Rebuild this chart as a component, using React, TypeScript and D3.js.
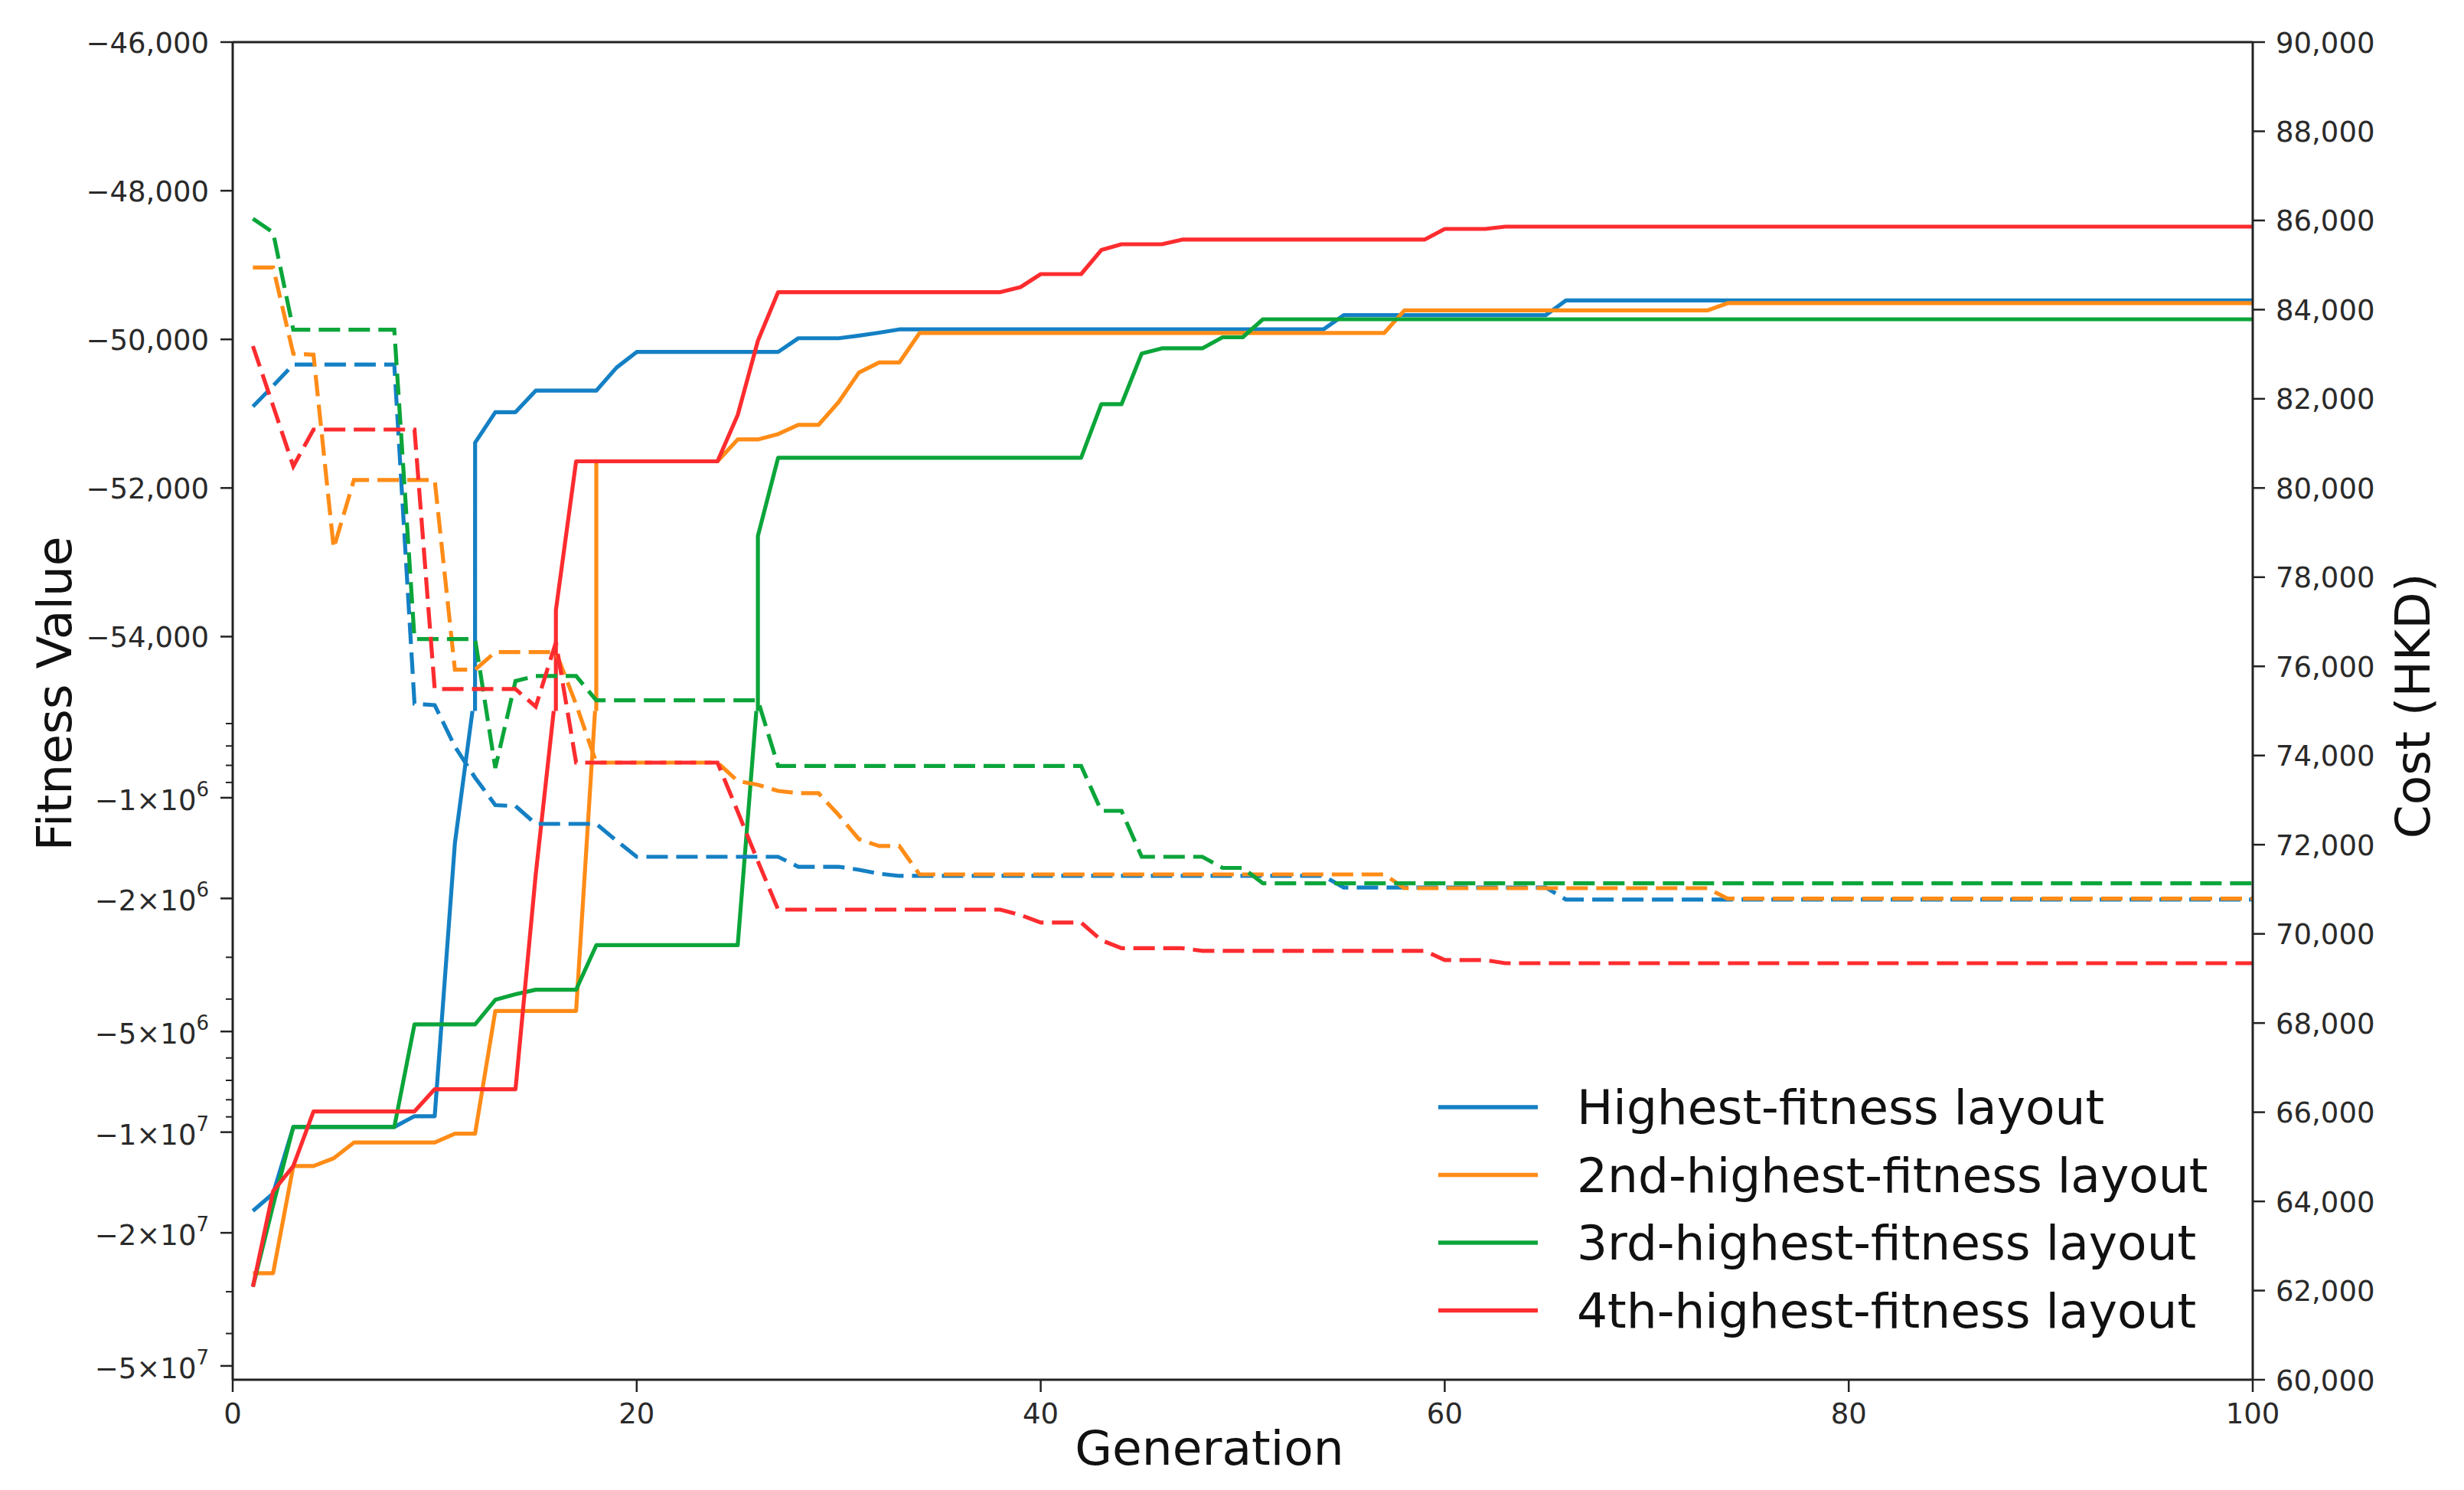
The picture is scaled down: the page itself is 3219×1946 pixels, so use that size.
import * as d3 from "d3";

type Pt = [number, number];

// canvas + plot frame (pixels)
const W = 3219;
const H = 1946;
const PLOT = { left: 304, right: 2943, top: 55, bottom: 1802 };
const MID = (PLOT.top + PLOT.bottom) / 2; // linear part above, log part below

const GENERATION_TICKS = [0, 20, 40, 60, 80, 100];
const FITNESS_LINEAR_TICKS = [-46000, -48000, -50000, -52000, -54000];
const COST_TICKS = [
  60000, 62000, 64000, 66000, 68000, 70000, 72000, 74000,
  76000, 78000, 80000, 82000, 84000, 86000, 88000, 90000,
];

const SERIES_NAMES = [
  "Highest-fitness layout",
  "2nd-highest-fitness layout",
  "3rd-highest-fitness layout",
  "4th-highest-fitness layout",
];
const SERIES_COLORS = ["#1480c4", "#ff8c17", "#0ba53a", "#fd2c2f"];

// [generation, fitness value] — vertices of each curve
const BLUE_FITNESS: Pt[] = [
  [1, -1.72e7], [2, -1.525e7], [3, -9.65e6], [8, -9.65e6], [9, -8.96e6], [10, -8.96e6],
  [11, -1.366e6], [12, -51390], [13, -50980], [14, -50980], [15, -50690], [18, -50690],
  [19, -50380], [20, -50170], [27, -50170], [28, -49985], [30, -49985], [31, -49950],
  [32, -49910], [33, -49866], [54, -49866], [55, -49674], [65, -49674], [66, -49477],
  [100, -49477],
];
const ORANGE_FITNESS: Pt[] = [
  [1, -2.64e7], [2, -2.64e7], [3, -1.263e7], [4, -1.263e7], [5, -1.197e7], [6, -1.074e7],
  [10, -1.074e7], [11, -1.01e7], [12, -1.01e7], [13, -4.34e6], [17, -4.34e6], [18, -51641],
  [24, -51641], [25, -51347], [26, -51347], [27, -51275], [28, -51151], [29, -51151],
  [30, -50842], [31, -50447], [32, -50311], [33, -50311], [34, -49915], [57, -49915],
  [58, -49611], [73, -49611], [74, -49513], [100, -49513],
];
const GREEN_FITNESS: Pt[] = [
  [1, -2.9e7], [2, -1.654e7], [3, -9.65e6], [8, -9.65e6], [9, -4.76e6], [12, -4.76e6],
  [13, -4.02e6], [14, -3.87e6], [15, -3.75e6], [17, -3.75e6], [18, -2.76e6], [25, -2.76e6],
  [26, -52645], [27, -51594], [42, -51594], [43, -50873], [44, -50873], [45, -50190],
  [46, -50121], [48, -50121], [49, -49972], [50, -49972], [51, -49730], [100, -49730],
];
const RED_FITNESS: Pt[] = [
  [1, -2.9e7], [2, -1.503e7], [3, -1.263e7], [4, -8.67e6], [9, -8.67e6], [10, -7.44e6],
  [14, -7.44e6], [15, -1.7e6], [16, -53643], [17, -51641], [24, -51641], [25, -51018],
  [26, -50018], [27, -49365], [38, -49365], [39, -49297], [40, -49122], [42, -49122],
  [43, -48798], [44, -48720], [46, -48720], [47, -48658], [59, -48658], [60, -48514],
  [62, -48514], [63, -48483], [100, -48483],
];

// [generation, cost HKD]
const BLUE_COST: Pt[] = [
  [1, 81826], [2, 82290], [3, 82770], [8, 82770], [9, 75163], [10, 75130], [11, 74202],
  [12, 73503], [13, 72888], [14, 72866], [15, 72467], [18, 72467], [19, 72090], [20, 71729],
  [27, 71729], [28, 71505], [30, 71505], [31, 71437], [32, 71350], [33, 71300], [54, 71300],
  [55, 71040], [65, 71040], [66, 70770], [100, 70770],
];
const ORANGE_COST: Pt[] = [
  [1, 84945], [2, 84945], [3, 83011], [4, 82988], [5, 78650], [6, 80178], [10, 80178],
  [11, 75924], [12, 75924], [13, 76320], [16, 76320], [17, 75146], [18, 73841], [24, 73841],
  [25, 73429], [26, 73343], [27, 73206], [28, 73155], [29, 73155], [30, 72663], [31, 72124],
  [32, 71970], [33, 71970], [34, 71334], [57, 71334], [58, 71025], [73, 71025], [74, 70790],
  [100, 70790],
];
const GREEN_COST: Pt[] = [
  [1, 86040], [2, 85733], [3, 83548], [8, 83548], [9, 76611], [12, 76611], [13, 73721],
  [14, 75670], [15, 75782], [17, 75782], [18, 75237], [26, 75237], [27, 73767], [42, 73767],
  [43, 72759], [44, 72759], [45, 71729], [48, 71729], [49, 71480], [50, 71480], [51, 71135],
  [100, 71135],
];
const RED_COST: Pt[] = [
  [1, 83183], [2, 81843], [3, 80487], [4, 81311], [9, 81311], [10, 75490], [14, 75490],
  [15, 75095], [16, 76537], [17, 73841], [24, 73841], [25, 72742], [26, 71626], [27, 70544],
  [38, 70544], [39, 70424], [40, 70253], [42, 70253], [43, 69858], [44, 69678], [47, 69678],
  [48, 69620], [59, 69620], [60, 69411], [62, 69411], [63, 69342], [100, 69342],
];

const FITNESS = [BLUE_FITNESS, ORANGE_FITNESS, GREEN_FITNESS, RED_FITNESS];
const COSTS = [BLUE_COST, ORANGE_COST, GREEN_COST, RED_COST];

const FONT = "DejaVu Sans";
const TICK_COLOR = "#2a2a2a";
const AXIS_COLOR = "#222";
const LINE_W = 5.2;

export default function App() {
  const x = d3.scaleLinear().domain([0, 100]).range([PLOT.left, PLOT.right]);
  // upper half: linear fitness scale
  const yTop = d3.scaleLinear().domain([-46000, -55000]).range([PLOT.top, MID]);
  // lower half: log of |fitness|
  const yLog = d3.scaleLog().domain([5.5e5, 5.5e7]).range([MID, PLOT.bottom]);
  const yBot = (v: number) => yLog(Math.max(-v, 4.8e5));
  const yCost = d3.scaleLinear().domain([60000, 90000]).range([PLOT.bottom, PLOT.top]);

  const lineTop = d3.line<Pt>().x((d) => x(d[0])).y((d) => yTop(d[1]));
  const lineBot = d3.line<Pt>().x((d) => x(d[0])).y((d) => yBot(d[1]));
  const lineCost = d3.line<Pt>().x((d) => x(d[0])).y((d) => yCost(d[1]));

  const logTicks = yLog.ticks();
  const isMajor = (t: number) => {
    const e = Math.floor(Math.log10(t) + 1e-9);
    const m = Math.round(t / 10 ** e);
    return m === 1 || m === 2 || m === 5;
  };
  const fmt = d3.format(",");

  const plotW = PLOT.right - PLOT.left;

  return (
    <svg
      width={W}
      height={H}
      style={{ position: "absolute", left: 0, top: 0, background: "#fff", display: "block" }}
      fontFamily={FONT}
    >
      <defs>
        <clipPath id="clip-top">
          <rect x={PLOT.left} y={PLOT.top} width={plotW} height={MID - PLOT.top} />
        </clipPath>
        <clipPath id="clip-bot">
          <rect x={PLOT.left} y={MID} width={plotW} height={PLOT.bottom - MID} />
        </clipPath>
        <clipPath id="clip-all">
          <rect x={PLOT.left} y={PLOT.top} width={plotW} height={PLOT.bottom - PLOT.top} />
        </clipPath>
      </defs>

      {/* fitness curves (solid) */}
      {FITNESS.map((data, i) => (
        <g key={`fit-${i}`} fill="none" stroke={SERIES_COLORS[i]} strokeWidth={LINE_W} strokeLinejoin="round">
          <path d={lineBot(data) ?? ""} clipPath="url(#clip-bot)" />
          <path d={lineTop(data) ?? ""} clipPath="url(#clip-top)" />
        </g>
      ))}

      {/* cost curves (dashed) */}
      <g clipPath="url(#clip-all)">
        {COSTS.map((data, i) => (
          <path
            key={`cost-${i}`}
            d={lineCost(data) ?? ""}
            fill="none"
            stroke={SERIES_COLORS[i]}
            strokeWidth={LINE_W}
            strokeDasharray="28 11"
          />
        ))}
      </g>

      {/* frame */}
      <g stroke={AXIS_COLOR} strokeWidth={3} fill="none">
        <line x1={PLOT.left} x2={PLOT.right} y1={PLOT.top} y2={PLOT.top} />
        <line x1={PLOT.left} x2={PLOT.right} y1={PLOT.bottom} y2={PLOT.bottom} />
        <line x1={PLOT.left} x2={PLOT.left} y1={PLOT.top} y2={PLOT.bottom} />
        <line x1={PLOT.right} x2={PLOT.right} y1={PLOT.top} y2={PLOT.bottom} />
      </g>

      {/* x axis */}
      {GENERATION_TICKS.map((t) => (
        <g key={`x-${t}`}>
          <line x1={x(t)} x2={x(t)} y1={PLOT.bottom} y2={PLOT.bottom + 16} stroke={AXIS_COLOR} strokeWidth={2.5} />
          <text x={x(t)} y={1859} fontSize={37} textAnchor="middle" fill={TICK_COLOR}>
            {t}
          </text>
        </g>
      ))}

      {/* left axis, linear part */}
      {FITNESS_LINEAR_TICKS.map((t) => (
        <g key={`yl-${t}`}>
          <line x1={PLOT.left - 16} x2={PLOT.left} y1={yTop(t)} y2={yTop(t)} stroke={AXIS_COLOR} strokeWidth={2.5} />
          <text x={273} y={yTop(t) + 13.5} fontSize={37} textAnchor="end" fill={TICK_COLOR}>
            {fmt(t)}
          </text>
        </g>
      ))}

      {/* left axis, log part */}
      {logTicks.map((t) => {
        const y = yLog(t);
        const major = isMajor(t);
        const e = Math.floor(Math.log10(t) + 1e-9);
        const m = Math.round(t / 10 ** e);
        return (
          <g key={`yg-${t}`}>
            <line
              x1={PLOT.left - (major ? 16 : 9)}
              x2={PLOT.left}
              y1={y}
              y2={y}
              stroke={AXIS_COLOR}
              strokeWidth={major ? 2.5 : 2}
            />
            {major && (
              <text x={273} y={y + 16} fontSize={37} textAnchor="end" fill={TICK_COLOR}>
                {`\u2212${m}\u00d710`}
                <tspan fontSize={26} dy={-18}>{e}</tspan>
              </text>
            )}
          </g>
        );
      })}

      {/* right axis */}
      {COST_TICKS.map((t) => (
        <g key={`yr-${t}`}>
          <line x1={PLOT.right} x2={PLOT.right + 16} y1={yCost(t)} y2={yCost(t)} stroke={AXIS_COLOR} strokeWidth={2.5} />
          <text x={2973} y={yCost(t) + 13.5} fontSize={37} textAnchor="start" fill={TICK_COLOR}>
            {fmt(t)}
          </text>
        </g>
      ))}

      {/* axis titles */}
      <text x={1580} y={1913} fontSize={63} textAnchor="middle" fill="#111">
        Generation
      </text>
      <text transform={`translate(93,906) rotate(-90)`} fontSize={63} textAnchor="middle" fill="#111">
        Fitness Value
      </text>
      <text transform={`translate(3174,922) rotate(-90)`} fontSize={63} textAnchor="middle" fill="#111">
        Cost (HKD)
      </text>

      {/* legend */}
      {SERIES_NAMES.map((name, i) => {
        const y = 1446 + i * 88.5;
        return (
          <g key={name}>
            <line x1={1879} x2={2009} y1={y} y2={y} stroke={SERIES_COLORS[i]} strokeWidth={5.5} />
            <text x={2060} y={y + 22} fontSize={63} fill="#111">
              {name}
            </text>
          </g>
        );
      })}
    </svg>
  );
}
